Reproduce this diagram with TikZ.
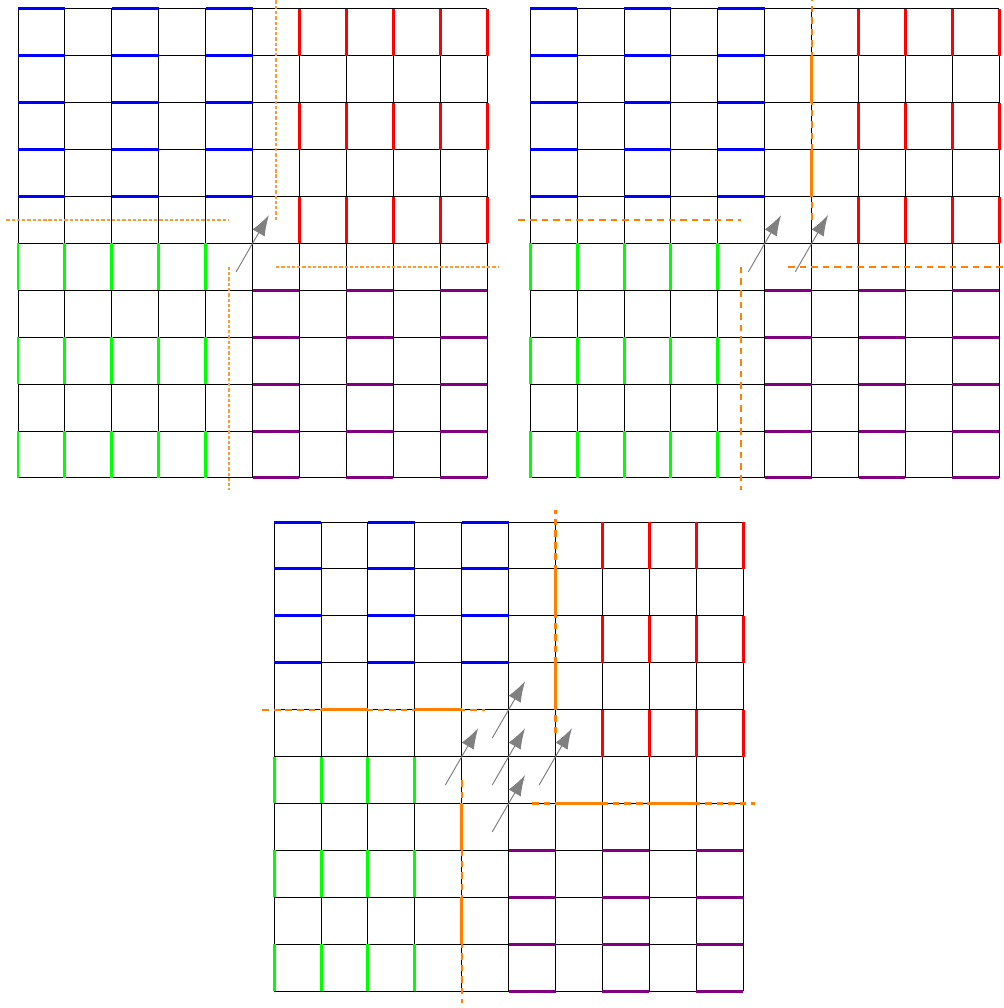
\documentclass[tikz,border=0pt]{standalone}
\usetikzlibrary{arrows.meta}

\definecolor{plum}{RGB}{128,0,128}
\definecolor{cutorange}{RGB}{255,128,0}

\tikzset{
  gridline/.style={black, line width=0.6pt},
  bluebar/.style={blue, line width=1.8pt},
  redbar/.style={red, line width=1.8pt},
  greenbar/.style={green, line width=1.8pt},
  plumbar/.style={plum, line width=1.8pt},
  cutbar/.style={cutorange, line width=1.8pt},
  cutline/.style={cutorange, line width=1.3pt, dash pattern=on 4pt off 3pt},
  cutfine/.style={cutorange!80, line width=0.9pt, dash pattern=on 2pt off 1.2pt},
  flip/.style={gray, line width=0.6pt, -{Latex[length=4.4mm,width=3mm]}},
}

\newcommand{\flipat}[1]{\draw[flip] (#1) ++(240:0.7) -- ++(60:1.4);}

\begin{document}
\begin{tikzpicture}

  \useasboundingbox (-0.384,-11.30) rectangle (21.02,10.19);

  % first stage
  \draw[gridline] (0,0) grid (10,10);
  \foreach \y in {6,...,10} \foreach \x in {0,2,4} \draw[bluebar] (\x,\y) -- ++(1,0);
  \foreach \x in {6,...,10} \foreach \y in {5,7,9} \draw[redbar] (\x,\y) -- ++(0,1);
  \foreach \x in {0,...,4} \foreach \y in {0,2,4} \draw[greenbar] (\x,\y) -- ++(0,1);
  \foreach \y in {0,...,4} \foreach \x in {5,7,9} \draw[plumbar] (\x,\y) -- ++(1,0);

  \draw[cutfine] (5.5,5.5) -- (5.5,10.25);
  \draw[cutfine] (-0.25,5.5) -- (4.5,5.5);
  \draw[cutfine] (4.5,4.5) -- (4.5,-0.25);
  \draw[cutfine] (5.5,4.5) -- (10.25,4.5);

  \flipat{5,5}

  % second stage
  \begin{scope}[xshift=10.92cm]
    \draw[gridline] (0,0) grid (10,10);
    \foreach \y in {6,...,10} \foreach \x in {0,2,4} \draw[bluebar] (\x,\y) -- ++(1,0);
    \foreach \x in {7,...,10} \foreach \y in {5,7,9} \draw[redbar] (\x,\y) -- ++(0,1);
    \foreach \x in {0,...,4} \foreach \y in {0,2,4} \draw[greenbar] (\x,\y) -- ++(0,1);
    \foreach \y in {0,...,4} \foreach \x in {5,7,9} \draw[plumbar] (\x,\y) -- ++(1,0);

    \foreach \y in {6,8} \draw[cutbar] (6,\y) -- ++(0,1);
    \draw[cutline] (6,5.5) -- (6,10.25);
    \draw[cutline] (-0.25,5.5) -- (4.5,5.5);
    \draw[cutline] (4.5,4.5) -- (4.5,-0.25);
    \draw[cutline] (5.5,4.5) -- (10.25,4.5);

    \flipat{5,5}
    \flipat{6,5}
  \end{scope}

  % third stage
  \begin{scope}[xshift=5.46cm, yshift=-10.94cm]
    \draw[gridline] (0,0) grid (10,10);
    \foreach \y in {7,...,10} \foreach \x in {0,2,4} \draw[bluebar] (\x,\y) -- ++(1,0);
    \foreach \x in {7,...,10} \foreach \y in {5,7,9} \draw[redbar] (\x,\y) -- ++(0,1);
    \foreach \x in {0,...,3} \foreach \y in {0,2,4} \draw[greenbar] (\x,\y) -- ++(0,1);
    \foreach \y in {0,...,3} \foreach \x in {5,7,9} \draw[plumbar] (\x,\y) -- ++(1,0);

    \foreach \y in {6,8} \draw[cutbar] (6,\y) -- ++(0,1);
    \foreach \x in {1,3} \draw[cutbar] (\x,6) -- ++(1,0);
    \foreach \y in {1,3} \draw[cutbar] (4,\y) -- ++(0,1);
    \foreach \x in {6,8} \draw[cutbar] (\x,4) -- ++(1,0);
    \draw[cutline] (6,5.5) -- (6,10.25);
    \draw[cutline] (-0.25,6) -- (4.5,6);
    \draw[cutline] (4,4.5) -- (4,-0.25);
    \draw[cutline] (5.5,4) -- (10.25,4);

    \flipat{5,6}
    \flipat{4,5}
    \flipat{5,5}
    \flipat{6,5}
    \flipat{5,4}
  \end{scope}

\end{tikzpicture}
\end{document}
